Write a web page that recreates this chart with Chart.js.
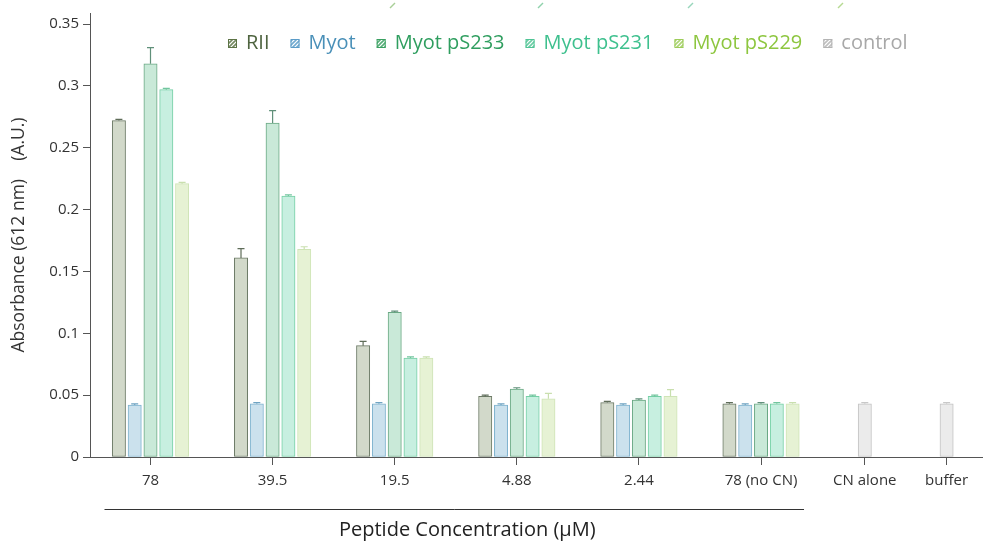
<!DOCTYPE html>
<html>
<head>
<meta charset="utf-8">
<script src="https://cdn.jsdelivr.net/npm/chart.js@4.4.1/dist/chart.umd.min.js"></script>
<style>
  html, body { margin: 0; padding: 0; background: #ffffff; }
  #wrap { width: 983px; height: 545px; position: relative; }
</style>
</head>
<body>
<div id="wrap"><canvas id="chart" width="983" height="545"></canvas></div>
<script>
// Peptide concentrations (µM) plus the two controls
const categories = ['78', '39.5', '19.5', '4.88', '2.44', '78 (no CN)', 'CN alone', 'buffer'];
// Where each category sits along the horizontal axis (in slot units)
const slotPositions = [0, 1, 2, 3, 4, 5, 5.85, 6.52];

const seriesNames = ['RII', 'Myot', 'Myot pS233', 'Myot pS231', 'Myot pS229', 'control'];

// Absorbance at 612 nm (A.U.)
const rii        = [0.272, 0.161, 0.090, 0.049, 0.044, 0.043, null, null];
const myot       = [0.042, 0.043, 0.043, 0.042, 0.042, 0.042, null, null];
const myotPS233  = [0.318, 0.270, 0.117, 0.055, 0.046, 0.043, null, null];
const myotPS231  = [0.297, 0.211, 0.080, 0.049, 0.049, 0.043, null, null];
const myotPS229  = [0.221, 0.168, 0.080, 0.047, 0.049, 0.043, null, null];
const control    = [null, null, null, null, null, null, 0.043, 0.043];

// Standard deviations (upper error bars)
const riiErr       = [0.001, 0.0075, 0.0035, 0.001, 0.001, 0.001, null, null];
const myotErr      = [0.001, 0.001, 0.001, 0.001, 0.001, 0.001, null, null];
const myotPS233Err = [0.013, 0.010, 0.001, 0.001, 0.001, 0.001, null, null];
const myotPS231Err = [0.001, 0.001, 0.001, 0.001, 0.001, 0.001, null, null];
const myotPS229Err = [0.001, 0.002, 0.001, 0.0045, 0.0055, 0.001, null, null];
const controlErr   = [null, null, null, null, null, null, 0.001, 0.001];

const yTickValues = [0, 0.05, 0.1, 0.15, 0.2, 0.25, 0.3, 0.35];

const seriesValues = [rii, myot, myotPS233, myotPS231, myotPS229, control];
const seriesErrors = [riiErr, myotErr, myotPS233Err, myotPS231Err, myotPS229Err, controlErr];

// Styling
const FONT = "'Open Sans', 'DejaVu Sans', sans-serif";
const barFill   = ['#d2d9ca', '#cbe1ed', '#c9e9d8', '#c7efe0', '#e6f2d4', '#ebebeb'];
const barEdge   = ['#6c7a66', '#7fb3cf', '#6aa884', '#74cfa5', '#cfe4b6', '#c3c3c3'];
const errColor  = ['#5f6d59', '#6ea3c2', '#60907a', '#72c59e', '#c9dfae', '#c8c8c8'];
const legendInk = ['#4f6440', '#4a90b8', '#2f9e5f', '#3ec08e', '#8dc63f', '#a8a8a8'];
const legendKey = ['#5d7446', '#5b9cc8', '#3aa061', '#50c495', '#9dcc5a', '#b4b4b4'];

// Small hatched square used as the legend key
function hatch(color) {
  const c = document.createElement('canvas');
  c.width = 4; c.height = 4;
  const g = c.getContext('2d');
  g.fillStyle = '#ffffff';
  g.fillRect(0, 0, 4, 4);
  g.strokeStyle = color;
  g.globalAlpha = 0.85;
  g.lineWidth = 1.6;
  g.beginPath();
  g.moveTo(-1, 5); g.lineTo(5, -1);
  g.moveTo(-1, 1); g.lineTo(1, -1);
  g.moveTo(3, 5); g.lineTo(5, 3);
  g.stroke();
  return document.createElement('canvas').getContext('2d').createPattern(c, 'repeat');
}
const legendPatterns = legendKey.map(hatch);

const datasets = seriesNames.map((name, i) => ({
  label: name,
  data: seriesValues[i],
  errors: seriesErrors[i],
  backgroundColor: barFill[i],
  borderColor: barEdge[i],
  borderWidth: 1,
  borderSkipped: false,
  barThickness: 15.8,
  maxBarThickness: 13.3,
  skipNull: true
}));

// Upper error bars with a short cap
const errorBars = {
  id: 'errorBars',
  afterDatasetsDraw(chart) {
    const ctx = chart.ctx;
    const y = chart.scales.y;
    chart.data.datasets.forEach((ds, di) => {
      const meta = chart.getDatasetMeta(di);
      meta.data.forEach((bar, j) => {
        const v = ds.data[j], e = ds.errors[j];
        if (v == null || e == null) return;
        const top = y.getPixelForValue(v + e);
        ctx.save();
        ctx.strokeStyle = errColor[di];
        ctx.lineWidth = 1.2;
        ctx.beginPath();
        ctx.moveTo(bar.x, bar.y);
        ctx.lineTo(bar.x, top);
        ctx.moveTo(bar.x - 3.5, top);
        ctx.lineTo(bar.x + 3.5, top);
        ctx.stroke();
        ctx.restore();
      });
    });
  }
};

// Single-row legend inside the plot, each name in its series colour
const inlineLegend = {
  id: 'inlineLegend',
  afterDraw(chart) {
    const ctx = chart.ctx;
    const box = 9, gap = 9, itemGap = 21;
    let x = 228;
    const yMid = 43;
    ctx.save();
    ctx.font = '20px ' + FONT;
    ctx.textBaseline = 'middle';
    ctx.textAlign = 'left';
    chart.data.datasets.forEach((ds, i) => {
      ctx.fillStyle = legendPatterns[i];
      ctx.fillRect(x, yMid - 4, box, box);
      ctx.strokeStyle = legendKey[i];
      ctx.lineWidth = 1;
      ctx.strokeRect(x + 0.5, yMid - 3.5, box - 1, box - 1);
      ctx.fillStyle = legendInk[i];
      const tx = x + box + gap;
      ctx.fillText(ds.label, tx, yMid);
      x = tx + ctx.measureText(ds.label).width + itemGap;
    });
    ctx.restore();
  }
};

// Bracket under the peptide series and its caption
const bracketCaption = {
  id: 'bracketCaption',
  afterDraw(chart) {
    const ctx = chart.ctx;
    const x = chart.scales.x;
    const x0 = x.getPixelForValue(slotPositions[0]) - 46;
    const x1 = x.getPixelForValue(slotPositions[5]) + 43;
    ctx.save();
    ctx.strokeStyle = '#333';
    ctx.lineWidth = 1;
    ctx.beginPath();
    ctx.moveTo(x0, 509.5);
    ctx.lineTo(x1, 509.5);
    ctx.stroke();
    ctx.fillStyle = '#222';
    ctx.font = '20px ' + FONT;
    ctx.textAlign = 'center';
    ctx.textBaseline = 'middle';
    ctx.fillText('Peptide Concentration (\u03bcM)', (x0 + x1) / 2 + 13, 530);
    // faint marks along the top edge
    const marks = [[390, '#a9cf98'], [538, '#8fd2ac'], [688, '#98d6bb'], [838, '#b6da92']];
    ctx.lineWidth = 1.4;
    marks.forEach(([mx, col]) => {
      ctx.strokeStyle = col;
      ctx.beginPath();
      ctx.moveTo(mx, 8);
      ctx.lineTo(mx + 5, 3);
      ctx.stroke();
    });
    ctx.restore();
  }
};

new Chart(document.getElementById('chart'), {
  type: 'bar',
  data: { labels: slotPositions, datasets },
  plugins: [errorBars, inlineLegend, bracketCaption],
  options: {
    responsive: false,
    animation: false,
    layout: { padding: { left: 0, right: 0, top: 9, bottom: 0 } },
    plugins: {
      tooltip: { enabled: false },
      title: { display: false },
      legend: { display: false }
    },
    scales: {
      x: {
        type: 'linear',
        min: -0.4955,
        max: 6.818,
        offset: false,
        afterBuildTicks: (s) => { s.ticks = slotPositions.map(v => ({ value: v })); },
        afterFit: (s) => { s.height = 88; },
        ticks: {
          autoSkip: false,
          maxRotation: 0,
          padding: 7,
          color: '#333',
          font: { family: FONT, size: 15 },
          callback: (v, i) => categories[i]
        },
        grid: { offset: false, drawOnChartArea: false, tickLength: 8, color: '#555', tickColor: '#555' },
        border: { color: '#555', width: 1 }
      },
      y: {
        min: 0,
        max: 0.359,
        afterBuildTicks: (s) => { s.ticks = yTickValues.map(v => ({ value: v })); },
        afterFit: (s) => { s.width = 90; },
        ticks: {
          padding: 4,
          color: '#333',
          font: { family: FONT, size: 15 },
          callback: (v) => String(+v.toFixed(2))
        },
        grid: { drawOnChartArea: false, tickLength: 7, color: '#555', tickColor: '#555' },
        border: { color: '#555', width: 1 },
        title: {
          display: true,
          text: 'Absorbance (612 nm)    (A.U.)',
          color: '#333',
          font: { family: FONT, size: 17.5 },
          padding: { top: 9, bottom: 0 }
        }
      }
    }
  }
});
</script>
</body>
</html>
